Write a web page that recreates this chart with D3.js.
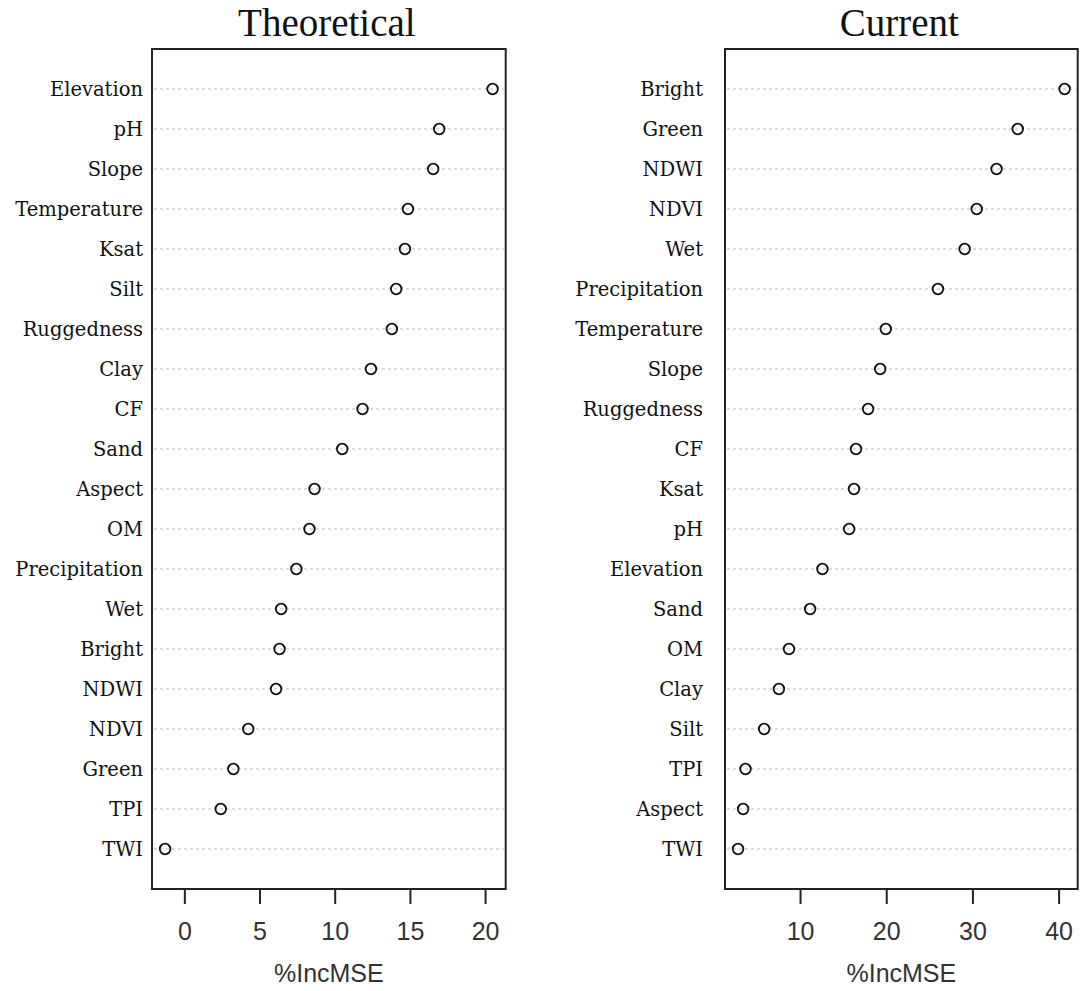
<!DOCTYPE html>
<html>
<head>
<meta charset="utf-8">
<script src="https://cdn.jsdelivr.net/npm/d3@7/dist/d3.min.js"></script>
<style>
  html, body { margin: 0; padding: 0; background: #fff; }
  svg { display: block; }
</style>
</head>
<body>
<svg id="chart" width="1080" height="991"></svg>
<script>
// Variable importance (%IncMSE), listed top to bottom
const theoreticalVars = ["Elevation","pH","Slope","Temperature","Ksat","Silt","Ruggedness","Clay","CF","Sand","Aspect","OM","Precipitation","Wet","Bright","NDWI","NDVI","Green","TPI","TWI"];
const theoreticalVals = [20.5,16.95,16.55,14.87,14.67,14.09,13.8,12.41,11.85,10.5,8.66,8.32,7.45,6.44,6.33,6.1,4.25,3.26,2.42,-1.28];

const currentVars = ["Bright","Green","NDWI","NDVI","Wet","Precipitation","Temperature","Slope","Ruggedness","CF","Ksat","pH","Elevation","Sand","OM","Clay","Silt","TPI","Aspect","TWI"];
const currentVals = [40.7,35.26,32.8,30.5,29.1,26.0,19.95,19.3,17.9,16.5,16.26,15.7,12.6,11.17,8.72,7.55,5.84,3.67,3.4,2.81];

const theoreticalTicks = [0,5,10,15,20];
const currentTicks = [10,20,30,40];

const svg = d3.select("#chart");

function dotPanel(opts) {
  const { title, vars, vals, ticks, left, right, labelX } = opts;
  const top = 49, bottom = 889;
  const n = vars.length;
  const lo = d3.min(vals), hi = d3.max(vals);
  const pad = (hi - lo) * 0.04;

  const x = d3.scaleLinear().domain([lo - pad, hi + pad]).range([left, right]);
  const y = d3.scaleLinear().domain([0, n + 1]).range([top, bottom]);

  const g = svg.append("g");

  // dotted guide lines per variable
  g.selectAll("line.guide").data(vars).join("line")
    .attr("class", "guide")
    .attr("x1", left + 2).attr("x2", right - 2)
    .attr("y1", (d, i) => y(i + 1)).attr("y2", (d, i) => y(i + 1))
    .attr("stroke", "#b8b8b8").attr("stroke-width", 1.2)
    .attr("stroke-dasharray", "3,3");

  // variable labels
  g.selectAll("text.lab").data(vars).join("text")
    .attr("class", "lab")
    .attr("x", labelX).attr("y", (d, i) => y(i + 1))
    .attr("dy", "0.36em")
    .attr("text-anchor", "end")
    .attr("font-family", "DejaVu Serif")
    .attr("font-size", 19.5)
    .attr("fill", "#111")
    .text(d => d);

  // points
  g.selectAll("circle").data(vals).join("circle")
    .attr("cx", d => x(d)).attr("cy", (d, i) => y(i + 1))
    .attr("r", 5.3)
    .attr("fill", "none").attr("stroke", "#111").attr("stroke-width", 1.8);

  // frame
  g.append("rect")
    .attr("x", left).attr("y", top)
    .attr("width", right - left).attr("height", bottom - top)
    .attr("fill", "none").attr("stroke", "#222").attr("stroke-width", 2);

  // bottom axis
  const axis = d3.axisBottom(x).tickValues(ticks).tickSize(15).tickPadding(18).tickFormat(d3.format("d"));
  const ag = g.append("g").attr("transform", `translate(0,${bottom})`).call(axis);
  ag.select(".domain").remove();
  ag.selectAll(".tick line").attr("stroke", "#222").attr("stroke-width", 2);
  ag.selectAll(".tick text")
    .attr("font-family", "Liberation Sans, Arial, sans-serif")
    .attr("font-size", 25).attr("fill", "#333");

  // axis title
  g.append("text")
    .attr("x", (left + right) / 2).attr("y", 982)
    .attr("text-anchor", "middle")
    .attr("font-family", "Liberation Sans, Arial, sans-serif")
    .attr("font-size", 25).attr("fill", "#333")
    .text("%IncMSE");

  // panel title
  g.append("text")
    .attr("x", (left + right) / 2 - 2).attr("y", 36)
    .attr("text-anchor", "middle")
    .attr("font-family", "Liberation Serif, Times New Roman, serif")
    .attr("font-size", 39).attr("fill", "#111")
    .text(title);
}

dotPanel({ title: "Theoretical", vars: theoreticalVars, vals: theoreticalVals, ticks: theoreticalTicks, left: 152, right: 505.7, labelX: 143 });
dotPanel({ title: "Current", vars: currentVars, vals: currentVals, ticks: currentTicks, left: 725, right: 1077.7, labelX: 703 });
</script>
</body>
</html>
